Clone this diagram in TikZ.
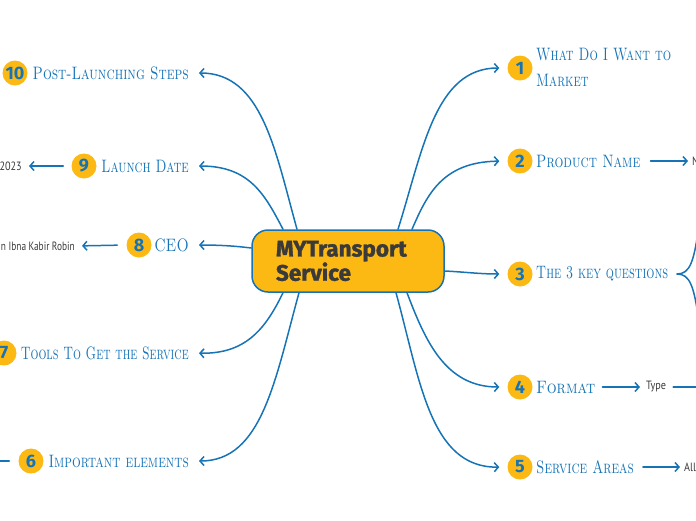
\documentclass[tikz,border=0pt]{standalone}
\usepackage{fontspec}
\setsansfont{Fira Sans}
\newfontfamily\titlefont[BoldFeatures={FakeBold=1.5}]{Fira Sans}
\newfontfamily\leaffont{PT Sans}
\usetikzlibrary{arrows.meta,calc}
\definecolor{mblue}{HTML}{1674B6}
\definecolor{myellow}{HTML}{FDB913}
\definecolor{mdark}{HTML}{3A3A3A}
\newcommand{\hx}[2]{\scalebox{#1}[1]{#2}}
\begin{document}
\begin{tikzpicture}[x=1pt,y=-1pt,
  conn/.style={draw=mblue,line width=1.5pt,line cap=round,-{Straight Barb[length=4pt,width=9pt,line width=1.5pt]}},
  plain/.style={draw=mblue,line width=1.5pt,line cap=round},
  num/.style={circle,fill=myellow,text=mblue,font=\sffamily\bfseries\fontsize{18}{18}\selectfont,inner sep=0pt,minimum size=25pt},
  lab/.style={text=mblue,font=\scshape\fontsize{18}{26}\selectfont,inner sep=0pt},
  leaf/.style={text=mdark,font=\leaffont\fontsize{12}{13}\selectfont,inner sep=0pt},
  hub/.style={draw=mblue,line width=1.5pt,fill=myellow,rounded corners=16pt,minimum width=192pt,minimum height=62pt,
    text width=144pt,inner xsep=24pt,align=left,text=mdark,font=\titlefont\bfseries\fontsize{22.5}{23}\selectfont}
]
\useasboundingbox (0,0) rectangle (696,520);
\clip (0,0) rectangle (696,520);

\node[hub] (c) at (348,261) {MYTransport\\Service};

% right side
\node[num] (n1) at (520,68) {1};
\node[lab,anchor=west,align=left] (l1) at (536,67) {\hx{0.73}{What Do I Want to}\\\hx{0.73}{Market}};
\node[num] (n2) at (520,161) {2};
\node[lab,anchor=west] (l2) at (536,161) {\hx{0.773}{Product Name}};
\node[num] (n3) at (520,274) {3};
\node[lab,anchor=west] (l3) at (536,274) {\hx{0.711}{The 3 key questions}};
\node[num] (n4) at (520,387) {4};
\node[lab,anchor=west] (l4) at (536,387) {\hx{0.862}{Format}};
\node[num] (n5) at (520,467) {5};
\node[lab,anchor=west] (l5) at (536,467) {\hx{0.756}{Service Areas}};

% left side
\node[num] (n10) at (15,73) {10};
\node[lab,anchor=east] (l10) at (189,73) {\hx{0.773}{Post-Launching Steps}};
\node[num] (n9) at (84,166) {9};
\node[lab,anchor=east] (l9) at (189,166) {\hx{0.738}{Launch Date}};
\node[num] (n8) at (139,245) {8};
\node[lab,anchor=east] (l8) at (189,245) {\hx{0.809}{CEO}};
\node[num] (n7) at (4,353) {7};
\node[lab,anchor=east] (l7) at (189,353) {\hx{0.693}{Tools To Get the Service}};
\node[num] (n6) at (31,461) {6};
\node[lab,anchor=east] (l6) at (189,461) {\hx{0.764}{Important elements}};

% leaves
\node[leaf,anchor=east] (t9) at (22,166) {\hx{0.85}{2023}};
\node[leaf,anchor=east] (t8) at (75,246) {\hx{0.78}{n Ibna Kabir Robin}};
\node[leaf,anchor=west] (t2) at (692,161) {\hx{0.85}{N}};
\node[leaf,anchor=west] (t4) at (646,387) {\hx{0.85}{Type}};
\node[leaf,anchor=west] (t5) at (684,467) {\hx{0.85}{All}};
\coordinate (o6) at (-30,461);
\coordinate (o4) at (720,387);
\coordinate (q) at (677,274);
\coordinate (qa) at (699,225);
\coordinate (qb) at (699,322);

% main connectors
\draw[conn,shorten >=8pt] ($(c.north)+(50,0)$) .. controls (423,150) and (435,68) .. (n1.west);
\draw[conn,shorten >=8pt] ($(c.north)+(64,0)$) .. controls (427,195) and (442,162) .. (n2.west);
\draw[conn,shorten >=8pt] ($(c.east)+(0,10)$) .. controls (465,272) and (480,274) .. (n3.west);
\draw[conn,shorten >=8pt] ($(c.south)+(59,0)$) .. controls (425,340) and (445,387) .. (n4.west);
\draw[conn,shorten >=8pt] ($(c.south)+(48,0)$) .. controls (420,380) and (430,468) .. (n5.west);

\draw[conn,shorten >=10pt] ($(c.north)+(-51,0)$) .. controls (275,150) and (262,73) .. (l10.east);
\draw[conn,shorten >=10pt] ($(c.north)+(-65,0)$) .. controls (265,195) and (250,166) .. (l9.east);
\draw[conn,shorten >=10pt] ($(c.west)+(0,-13)$) .. controls (235,246) and (220,245) .. (l8.east);
\draw[conn,shorten >=10pt] ($(c.south)+(-65,0)$) .. controls (265,330) and (245,354) .. (l7.east);
\draw[conn,shorten >=10pt] ($(c.south)+(-49,0)$) .. controls (275,380) and (262,461) .. (l6.east);

% child connectors
\draw[conn,shorten <=8pt,shorten >=7pt] (n9.west) -- (t9.east);
\draw[conn,shorten <=9pt,shorten >=7pt] (n8.west) -- (t8.east);
\draw[conn,shorten <=9pt] (n6.west) -- (o6);
\draw[conn,shorten <=10pt,shorten >=4pt] (l2.east) -- (t2.west);
\draw[conn,shorten <=7pt,shorten >=6pt] (l4.east) -- (t4.west);
\draw[plain,shorten <=7pt] (t4.east) -- (o4);
\draw[conn,shorten <=9pt,shorten >=4pt] (l5.east) -- (t5.west);
\draw[plain] (q) .. controls (690,274) and (694,262) .. (qa);
\draw[plain] (q) .. controls (690,274) and (694,286) .. (qb);
\end{tikzpicture}
\end{document}
